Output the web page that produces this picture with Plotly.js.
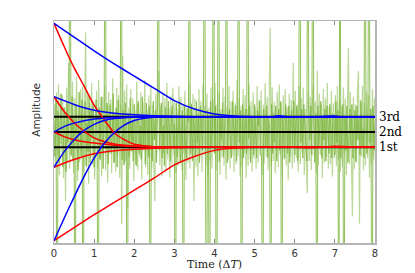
<!DOCTYPE html>
<html>
<head>
<meta charset="utf-8">
<script src="https://cdn.plot.ly/plotly-3.0.1.min.js"></script>
<style>html,body{margin:0;padding:0;background:#fff;}#chart{width:415px;height:273px;}</style>
</head>
<body>
<div id="chart"></div>
<script>
// Sampling of the noisy measurement
var noiseDt = 0.025;
// Dark green measurement samples
var noiseDark = [
0.7,-1.6,2.2,-20,1.4,-2.0,0.5,2.5,-1.1,-2.3,1.6,0.4,-2.6,2.0,-0.7,1.3,20,-1.5,2.3,-1.8,
0.9,-20,1.8,-0.6,-2.5,2.6,0.2,-1.6,2.1,-20,1.1,2.0,-2.2,0.6,-1.3,2.4,-2.0,1.4,-0.4,1.8,
-2.3,1.1,2.1,-0.9,-20,1.6,-1.8,2.3,0.4,-2.4,1.3,20,-1.1,1.9,-2.1,0.7,1.8,-1.4,-0.5,2.5,
-2.0,0.9,1.6,-2.3,2.1,-0.7,0.5,20,-1.8,1.4,-2.1,1.9,0.2,-20,1.2,-1.6,2.2,-1.1,0.7,-1.9,
1.8,-0.4,-2.2,1.6,2.0,-1.4,0.4,-1.8,2.3,-0.9,1.1,-2.1,1.9,0.5,-1.6,1.7,-20,0.9,-1.9,2.0,
-0.5,1.4,-2.0,1.7,20,-1.2,0.7,1.9,-1.7,0.4,-2.2,1.6,1.0,-1.4,2.0,-0.7,-1.9,1.2,1.7,-1.0,
0.5,-20,1.9,-1.6,0.9,2.0,-2.0,0.2,1.4,-20,1.7,-0.9,-1.7,1.5,0.7,20,-1.4,1.8,-1.9,1.0,
0.4,-1.6,2.0,-0.7,1.2,-2.0,1.7,0.5,-1.2,1.9,20,-1.7,-20,1.4,0.9,-20,2.0,-1.0,0.2,20,
-1.4,1.7,-20,0.7,20,-1.9,1.2,-0.5,1.9,-1.6,0.4,1.7,20,-2.0,1.0,1.5,-0.9,-1.7,2.0,0.5,
-1.2,1.7,-1.9,0.9,20,-0.7,1.4,-20,1.8,-1.7,0.5,1.5,-1.4,20,-0.4,1.7,-2.0,1.0,0.7,-1.5,
1.8,-0.5,-1.7,1.4,0.4,2.0,-1.2,-1.9,-20,1.5,0.7,-1.0,1.7,-1.7,0.9,0.2,-20,1.8,-1.4,1.2,
-0.7,1.7,-1.9,0.5,1.5,-1.2,2.0,-20,1.0,-0.4,-1.7,1.8,0.7,-1.4,1.7,-2.0,0.9,1.4,-0.9,2.0,
-1.5,0.4,1.7,-1.9,1.0,20,-0.7,1.5,-1.7,1.8,0.5,-1.2,-1.9,20,1.4,-0.5,1.7,-1.5,20,0.7,
-2.0,1.2,-20,1.7,-0.9,0.4,2.0,-1.7,1.0,-0.5,1.5,-1.9,1.7,0.7,-1.4,1.8,-0.4,-1.7,1.2,0.9,
-1.5,2.0,-0.7,1.4,-20,20,-1.7,0.5,1.8,-20,1.0,-1.2,1.7,-2.0,0.7,1.5,-0.9,1.8,-1.7,0.4,
1.4,-1.9,1.7,-0.5,0.9,-1.5,2.0,-1.0,0.2,-1.7,20,1.2,-1.4,1.8,20,-0.7,1.5,-20,1.7,-1.2,0.5
];
// Light green measurement samples
var noiseLight = [
1.8,-2.2,2.6,-1.5,3.1,-2.8,1.2,-0.8,2.4,-3.0,1.6,-4.5,2.9,-1.9,4.5,-2.4,0.9,-1.6,3.3,-2.7,
2.2,-1.1,3.6,-3.2,1.4,-2.0,2.8,-1.3,3.0,-2.6,1.1,6.5,-2.3,2.5,-3.4,1.9,-1.7,3.2,-2.1,2.0,
-3.1,1.5,2.7,-2.4,3.4,-1.8,1.3,-2.9,2.3,-1.2,3.0,-2.5,1.7,-3.3,2.6,-1.4,2.1,-2.7,3.5,-2.0,
1.2,-2.6,2.9,-1.5,2.4,-3.0,1.8,-6.0,5.0,-2.2,2.7,-1.9,3.1,-5.0,1.6,-2.4,2.8,-1.3,2.2,-3.2,
1.4,-2.1,3.3,-2.5,1.9,-1.6,2.6,-3.1,2.0,-1.2,3.4,-2.3,1.5,-2.8,2.4,-1.7,3.0,-2.4,1.8,-2.0,
-4.5,2.5,-1.6,3.1,4.0,-2.2,1.7,-2.9,2.6,-1.4,2.2,-2.6,3.2,-1.8,1.6,-3.0,2.4,-2.1,2.9,-1.5,
2.0,-2.7,1.5,-2.2,3.0,-1.9,2.3,-2.5,1.8,-1.4,2.7,-3.1,1.6,-2.0,3.3,-2.4,1.9,-1.6,2.5,-4.5,
2.2,-2.3,1.4,-2.9,2.8,-1.7,2.0,-2.6,3.1,-1.5,1.7,-2.2,2.5,-3.0,1.6,-1.9,2.9,-2.4,2.1,-1.3,
3.2,-2.5,1.8,-2.0,2.6,-2.8,1.5,-1.7,2.9,-2.2,2.3,-3.1,1.6,-1.8,3.0,-2.4,2.0,-1.5,2.7,-2.6,
1.9,-2.1,3.4,-1.6,2.2,-2.9,1.7,-2.3,2.8,-1.4,2.4,-3.0,1.5,-2.2,3.1,-1.8,2.0,-2.6,2.6,-1.7,
1.6,-2.4,3.0,-2.0,2.1,-1.5,2.7,-2.8,1.8,-2.1,3.2,-1.6,2.3,-2.5,1.7,6.8,-2.2,2.9,-1.9,2.0,
-2.7,1.5,2.6,-2.3,3.1,-1.5,1.9,-2.9,2.4,-1.8,2.8,-2.2,1.6,-3.1,2.5,-1.6,2.1,-2.4,4.5,-2.0,
2.7,-1.7,1.8,-2.6,3.0,-2.1,2.2,-1.4,2.9,-2.8,1.5,-2.0,-4.0,2.6,-1.9,2.3,-2.5,1.7,3.1,-1.6,
2.0,-2.7,4.0,-2.2,2.5,-1.5,1.8,-3.0,2.8,-2.0,2.2,-1.6,3.2,-2.4,1.6,-2.1,2.7,-2.9,1.9,-1.7,
2.4,-2.2,3.0,-1.8,2.1,-2.6,1.7,-2.3,2.9,-1.5,2.2,-2.8,1.6,5.5,-2.1,2.6,-1.9,-5.5,2.3,-2.4,
1.8,-2.0,2.7,4.0,-6.0,2.1,-1.6,3.0,-2.5,1.9,-2.2,2.6,-1.7,2.4,-3.0,1.5,-2.1,2.8,-1.8,2.2,-2.3
];

// Reference levels
var levelValues = [1, 0, -1];
var levelNames = ["3rd", "2nd", "1st"];
var levelT = [0, 8];

// Blue trajectories (converge to 3rd)
var b1T = [0,0.5,1,1.5,2,2.5,3,3.5,4,4.5,5,5.5,5.6,5.8,6,6.5,7,7.1,7.5,8];
var b1V = [7.1,6.2,5.3,4.45,3.65,2.85,2.05,1.5,1.18,1.05,1.0,1.02,1.06,1.0,0.98,1.0,1.05,1.0,0.97,1.0];
var b2T = [0,0.5,1,1.5,2,2.5,3,3.5,8];
var b2V = [2.3,1.8,1.42,1.22,1.12,1.06,1.03,1.0,1.0];
var b3T = [0,0.25,0.5,0.75,1,1.5,2,2.5,8];
var b3V = [0,0.35,0.58,0.74,0.85,0.95,0.99,1.0,1.0];
var b4T = [0,0.25,0.5,0.75,1,1.25,1.5,2,2.5,8];
var b4V = [-2.3,-1.3,-0.5,0.1,0.5,0.75,0.88,0.97,1.0,1.0];
var b5T = [0,0.25,0.5,0.75,1,1.25,1.5,1.75,2,2.25,2.5,3,8];
var b5V = [-7.1,-5.65,-4.25,-2.9,-1.7,-0.75,-0.05,0.45,0.75,0.9,0.97,1.0,1.0];

// Red trajectories (converge to 1st)
var r1T = [0,0.25,0.5,0.75,1,1.25,1.5,1.75,2,2.25,2.5,3,8];
var r1V = [7.1,5.6,4.2,3.0,1.75,0.8,-0.05,-0.5,-0.8,-0.9,-0.96,-1.0,-1.0];
var r2T = [0,0.25,0.5,0.75,1,1.25,1.5,2,2.5,3,8];
var r2V = [2.3,1.35,0.6,0.05,-0.38,-0.62,-0.78,-0.92,-0.98,-1.0,-1.0];
var r3T = [0,0.25,0.5,0.75,1,1.5,2,2.5,3,8];
var r3V = [0,-0.3,-0.5,-0.63,-0.72,-0.86,-0.94,-0.98,-1.0,-1.0];
var r4T = [0,0.5,1,1.5,2,2.5,3,3.5,8];
var r4V = [-2.3,-1.8,-1.42,-1.22,-1.12,-1.06,-1.03,-1.0,-1.0];
var r5T = [0,0.5,1,1.5,2,2.5,3,3.5,4,4.5,5,5.5,6,6.5,7,7.2,7.5,8];
var r5V = [-7.1,-6.25,-5.4,-4.6,-3.8,-3.0,-2.15,-1.6,-1.2,-1.05,-1.0,-0.98,-1.0,-1.02,-0.93,-0.95,-1.0,-1.0];

var xTicks = [0,1,2,3,4,5,6,7,8];

var traces = [];
traces.push({x0: 0.0125, dx: noiseDt, y: noiseLight, type: 'scatter', mode: 'lines',
  line: {color: 'rgb(186,216,152)', width: 1.2}, hoverinfo: 'skip'});
traces.push({x0: 0, dx: noiseDt, y: noiseDark, type: 'scatter', mode: 'lines',
  line: {color: 'rgb(132,186,72)', width: 0.9}, hoverinfo: 'skip'});
levelValues.forEach(function(v){
  traces.push({x: levelT, y: [v, v], type: 'scatter', mode: 'lines',
    line: {color: '#000', width: 2}});
});
var reds = [[r1T,r1V],[r2T,r2V],[r3T,r3V],[r4T,r4V],[r5T,r5V]];
reds.forEach(function(c){
  traces.push({x: c[0], y: c[1], type: 'scatter', mode: 'lines',
    line: {color: '#ff0000', width: 1.5, shape: 'spline', smoothing: 0.6}});
});
var blues = [[b1T,b1V],[b2T,b2V],[b3T,b3V],[b4T,b4V],[b5T,b5V]];
blues.forEach(function(c){
  traces.push({x: c[0], y: c[1], type: 'scatter', mode: 'lines',
    line: {color: '#0000ff', width: 1.5, shape: 'spline', smoothing: 0.6}});
});

var annotations = levelValues.map(function(v, i){
  return {xref: 'paper', yref: 'y', x: 1, y: v, xanchor: 'left', yanchor: 'middle',
    xshift: 2, text: levelNames[i], showarrow: false,
    font: {family: 'DejaVu Serif, serif', size: 12, color: '#000'}};
});
annotations.push({xref: 'paper', yref: 'paper', x: 0, y: 0.6, xanchor: 'right', yanchor: 'middle',
  xshift: -10, text: 'Amplitude', textangle: -90, showarrow: false,
  font: {family: 'DejaVu Sans, sans-serif', size: 10.5, color: '#333'}});

var layout = {
  width: 415, height: 273,
  margin: {l: 54, r: 40, t: 21, b: 30, pad: 0},
  paper_bgcolor: '#fff', plot_bgcolor: '#fff',
  showlegend: false,
  xaxis: {
    range: [0, 8], tickvals: xTicks, ticktext: xTicks.map(String),
    ticks: 'inside', ticklen: 4, tickcolor: '#888', tickwidth: 1,
    showline: true, linecolor: '#b5b5b5', linewidth: 1.5, mirror: 'ticks',
    showgrid: false, zeroline: false,
    tickfont: {family: 'DejaVu Sans, sans-serif', size: 10, color: '#333'},
    title: {text: 'Time (Δ<i>T</i>)', standoff: 2,
      font: {family: 'DejaVu Serif, serif', size: 11, color: '#222'}}
  },
  yaxis: {
    range: [-7.25, 7.25], showticklabels: false, ticks: '',
    showline: true, linecolor: '#b5b5b5', linewidth: 1.5, mirror: true,
    showgrid: false, zeroline: false
  },
  annotations: annotations
};

Plotly.newPlot('chart', traces, layout, {displayModeBar: false, staticPlot: true});
</script>
</body>
</html>
